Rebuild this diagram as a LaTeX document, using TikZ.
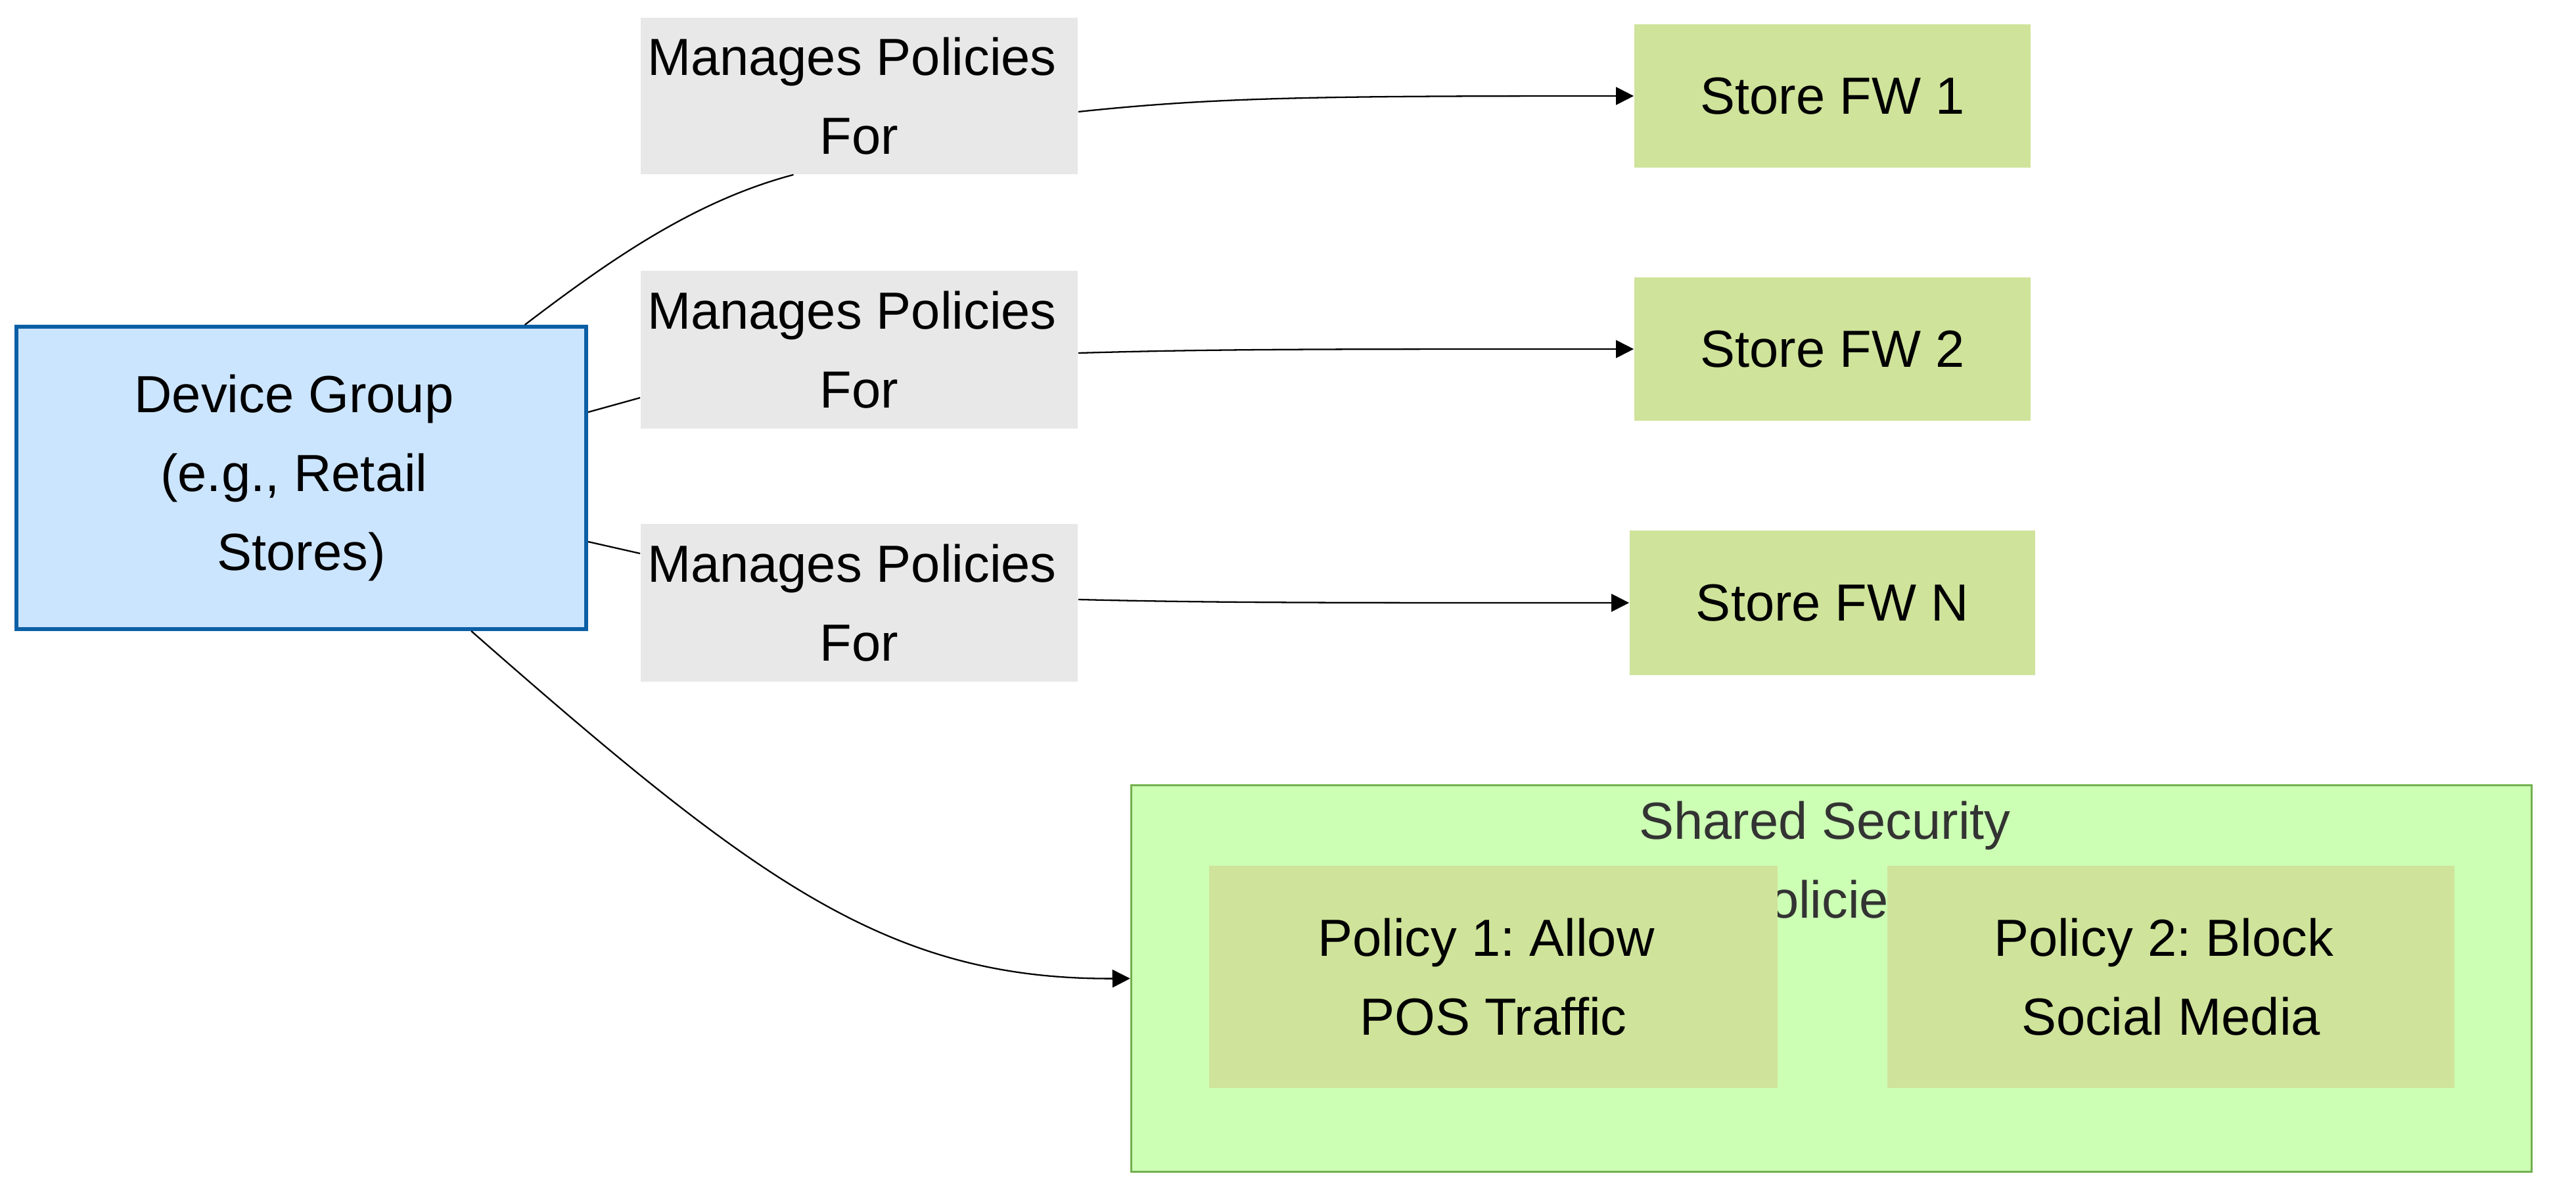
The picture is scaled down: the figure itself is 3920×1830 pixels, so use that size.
\documentclass[tikz,border=0pt]{standalone}
\usepackage{fontspec}
\setmainfont{Liberation Sans}
\usetikzlibrary{arrows.meta}
\frenchspacing
\definecolor{dgfill}{HTML}{CCE5FF}
\definecolor{dgline}{HTML}{0B5FA5}
\definecolor{lblfill}{HTML}{E8E8E8}
\definecolor{fwfill}{HTML}{CFE39A}
\definecolor{grpfill}{HTML}{CCFFB4}
\definecolor{grpline}{HTML}{72B04E}
\definecolor{titlecol}{HTML}{333333}
\newcommand{\tsp}{\kern0.278em}
\tikzset{
  txt/.style={font=\fontsize{22.6}{34.1}\selectfont\frenchspacing, align=center, inner sep=0pt},
  dgbox/.style={txt, draw=dgline, line width=1.6pt, fill=dgfill},
  lblbox/.style={txt, fill=lblfill},
  fwbox/.style={txt, fill=fwfill},
  grpbox/.style={draw=grpline, line width=0.9pt, fill=grpfill, inner sep=0pt},
  conn/.style={line width=0.65pt, black},
  arr/.style={conn, -{Triangle[length=7.7pt,width=7.7pt]}}
}
\begin{document}
\begin{tikzpicture}[x=0.01cm, y=-0.01cm]
\useasboundingbox (0,0) rectangle (3920,1830);
% container
\node[grpbox, minimum width=21.3cm, minimum height=5.87cm] (grp) at (2787,1488.5) {};
\node[txt, text=titlecol] (title) at (2777,1308) {Shared Security\\Policies};
\node[fwbox, minimum width=8.65cm, minimum height=3.37cm] (p1) at (2272.5,1486) {Policy 1: Allow\tsp\\POS Traffic};
\node[fwbox, minimum width=8.63cm, minimum height=3.37cm] (p2) at (3303.5,1486) {Policy 2: Block\tsp\\Social Media};
% device group
\node[dgbox, minimum width=8.67cm, minimum height=4.6cm] (dg) at (458.5,727) {Device Group\tsp\\(e.g., Retail\tsp\\Stores)};
% store firewalls
\node[fwbox, minimum width=6.03cm, minimum height=2.18cm] (s1) at (2788.5,146) {Store FW 1};
\node[fwbox, minimum width=6.03cm, minimum height=2.18cm] (s2) at (2788.5,531) {Store FW 2};
\node[fwbox, minimum width=6.17cm, minimum height=2.2cm] (sn) at (2788.5,917) {Store FW N};
% labels
\node[lblbox, minimum width=6.65cm, minimum height=2.38cm] (l1) at (1307.5,146) {Manages Policies\tsp\\For};
\node[lblbox, minimum width=6.65cm, minimum height=2.4cm] (l2) at (1307.5,532) {Manages Policies\tsp\\For};
\node[lblbox, minimum width=6.65cm, minimum height=2.4cm] (l3) at (1307.5,917) {Manages Policies\tsp\\For};
% edges
\draw[conn] ([xshift=3.4cm]dg.north) .. controls (935,390) and (1060,305) .. ([xshift=-1.0cm]l1.south);
\draw[arr] ([yshift=-0.24cm]l1.east) .. controls (1850,148) and (2000,146) .. (s1.west);
\draw[conn] ([yshift=1cm]dg.east) -- ([yshift=-0.73cm]l2.west);
\draw[arr] ([yshift=-0.05cm]l2.east) .. controls (1850,531) and (2000,531) .. (s2.west);
\draw[conn] ([yshift=-0.97cm]dg.east) -- ([yshift=0.75cm]l3.west);
\draw[arr] ([yshift=0.05cm]l3.east) .. controls (1850,917) and (2000,917) .. (sn.west);
\draw[arr] ([xshift=2.585cm]dg.south) .. controls (1150,1340) and (1350,1490) .. (grp.west);
\end{tikzpicture}
\end{document}
